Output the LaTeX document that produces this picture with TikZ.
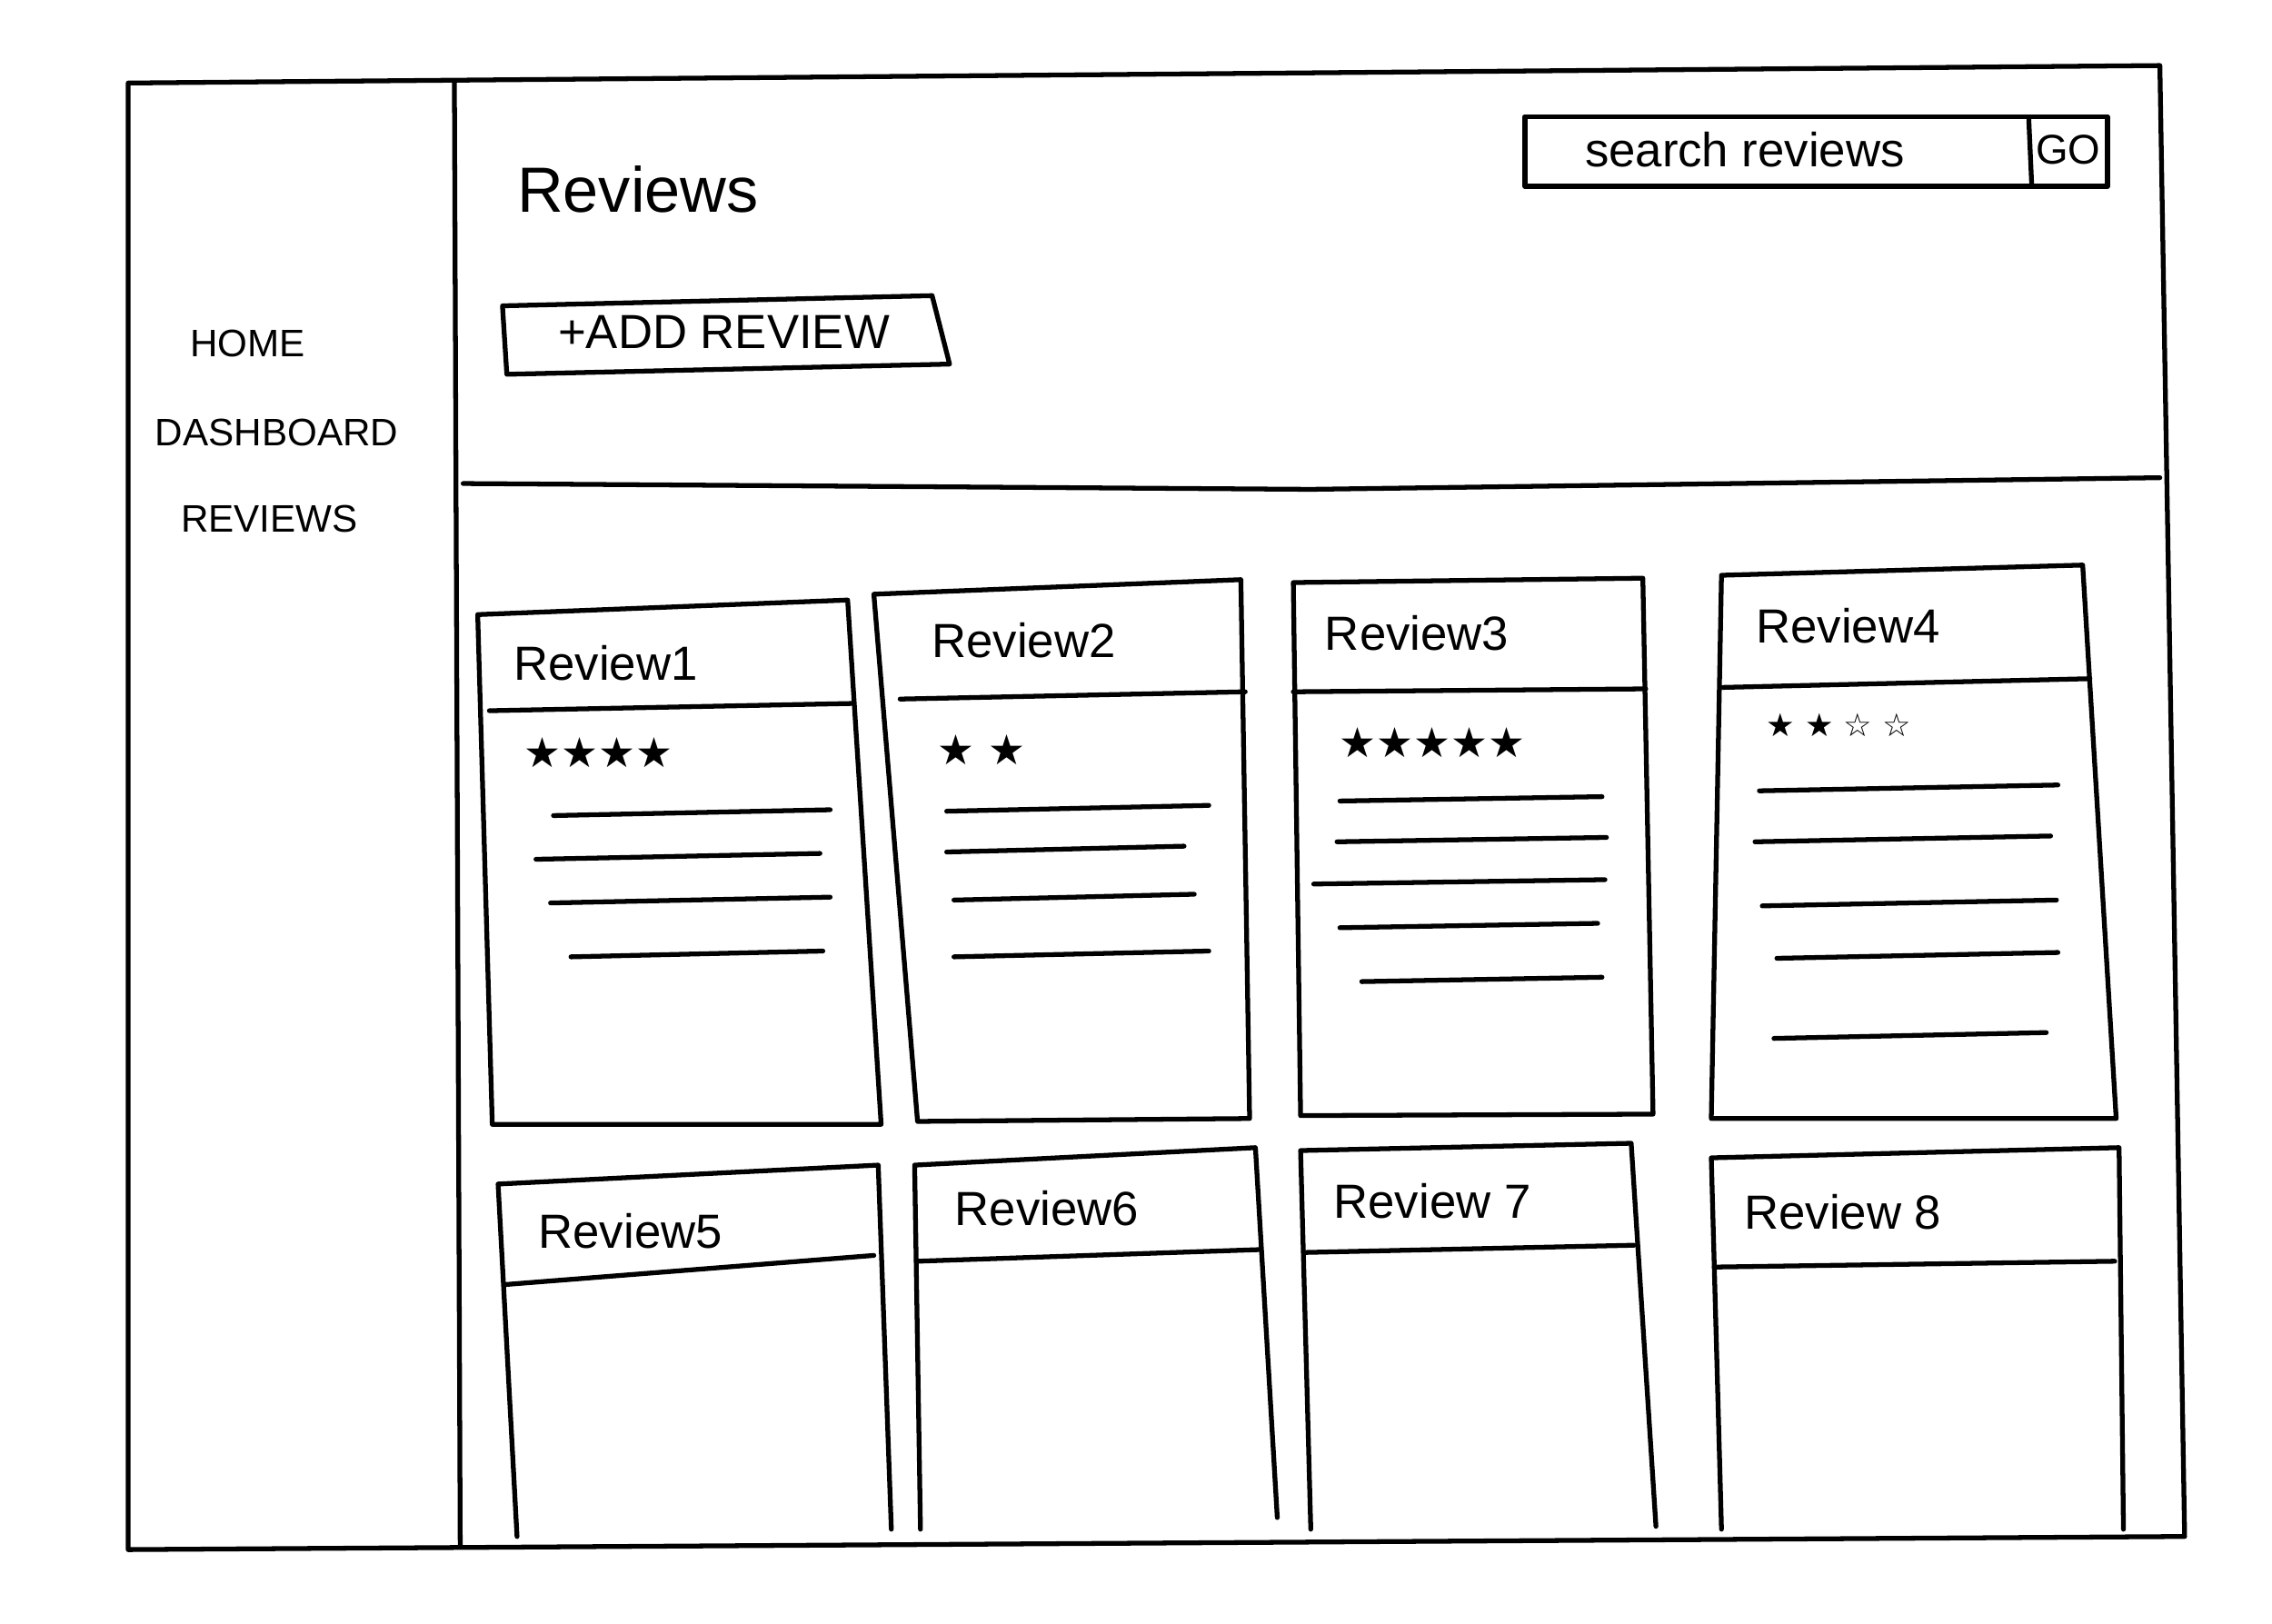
\documentclass[tikz,border=0pt]{standalone}
\usepackage{fontspec}
\setmainfont{Liberation Sans}
\newfontfamily\symf{DejaVu Sans}
\begin{document}
\begin{tikzpicture}[x=0.016026cm,y=-0.016026cm,
  ln/.style={line width=1.5pt,line join=round,line cap=round},
  hd/.style={font=\fontsize{15}{15}\selectfont,anchor=west},
  nav/.style={font=\fontsize{12}{12}\selectfont},
  st/.style={font=\symf\fontsize{13}{13}\selectfont,anchor=west}]
\useasboundingbox[fill=white] (0,0) rectangle (1560,1115);
% frame
\draw[ln] (88,57) -- (1483,45) -- (1500,1055) -- (88,1064) -- cycle;
\draw[ln] (312,57) -- (316,1062);
\draw[ln] (318,332) -- (900,336) -- (1483,328);
% sidebar
\node[nav] (home) at (170,236) {HOME};
\node[nav] (dash) at (190,297) {DASHBOARD};
\node[nav] (rev) at (185,356) {REVIEWS};
% title
\node[font=\fontsize{20}{20}\selectfont] (title) at (438,130) {Reviews};
% search
\draw[ln] (1047,80) rectangle (1447,128);
\draw[ln] (1393,82) -- (1395,127);
\node[font=\fontsize{15}{15}\selectfont] (srch) at (1198,103) {search reviews};
\node[font=\fontsize{13}{13}\selectfont] (go) at (1420,103) {GO};
% add button
\draw[ln] (345,210) -- (640,203) -- (652,250) -- (348,257) -- cycle;
\node[font=\fontsize{15}{15}\selectfont] (add) at (497,228) {+ADD REVIEW};
% row 1 cards
\draw[ln] (328,422) -- (582,412) -- (605,772) -- (338,772) -- cycle;
\draw[ln] (336,488) -- (586,483);
\node[hd] (r1) at (345,455) {Review1};
\draw[ln] (600,408) -- (852,398) -- (858,768) -- (630,770) -- cycle;
\draw[ln] (618,480) -- (855,475);
\node[hd] (r2) at (632,440) {Review2};
\draw[ln] (888,400) -- (1128,397) -- (1135,765) -- (893,766) -- cycle;
\draw[ln] (888,475) -- (1130,473);
\node[hd] (r3) at (902,435) {Review3};
\draw[ln] (1182,395) -- (1430,388) -- (1453,768) -- (1175,768) -- cycle;
\draw[ln] (1183,472) -- (1435,466);
\node[hd] (r4) at (1198,430) {Review4};
% stars
\node[st] (s1) at (352,517) {★★★★};
\node[st] (s2) at (636,515) {★ ★};
\node[st] (s3) at (912,510) {★★★★★};
\node[st,font=\symf\fontsize{10}{10}\selectfont] (s4) at (1205,498) {★ ★ ☆ ☆};
% text lines
\foreach \a/\b/\y in {380/570/560, 368/563/590, 378/570/620, 392/565/657}
  \draw[ln] (\a,\y) -- (\b,\y-4);
\foreach \a/\b/\y in {650/830/557, 650/813/585, 655/820/618, 655/830/657}
  \draw[ln] (\a,\y) -- (\b,\y-4);
\foreach \a/\b/\y in {920/1100/550, 918/1103/578, 902/1102/607, 920/1097/637, 935/1100/674}
  \draw[ln] (\a,\y) -- (\b,\y-3);
\foreach \a/\b/\y in {1208/1413/543, 1205/1408/578, 1210/1412/622, 1220/1413/658, 1218/1405/713}
  \draw[ln] (\a,\y) -- (\b,\y-4);
% row 2 cards
\draw[ln] (355,1055) -- (342,813) -- (603,800) -- (612,1050);
\draw[ln] (347,882) -- (600,862);
\node[hd] (r5) at (362,845) {Review5};
\draw[ln] (632,1050) -- (628,800) -- (862,788) -- (877,1042);
\draw[ln] (630,866) -- (865,858);
\node[hd] (r6) at (648,830) {Review6};
\draw[ln] (900,1050) -- (893,790) -- (1120,785) -- (1137,1048);
\draw[ln] (895,860) -- (1122,855);
\node[hd] (r7) at (908,825) {Review 7};
\draw[ln] (1182,1050) -- (1175,795) -- (1455,788) -- (1458,1050);
\draw[ln] (1177,870) -- (1452,866);
\node[hd] (r8) at (1190,832) {Review 8};
\end{tikzpicture}
\end{document}
